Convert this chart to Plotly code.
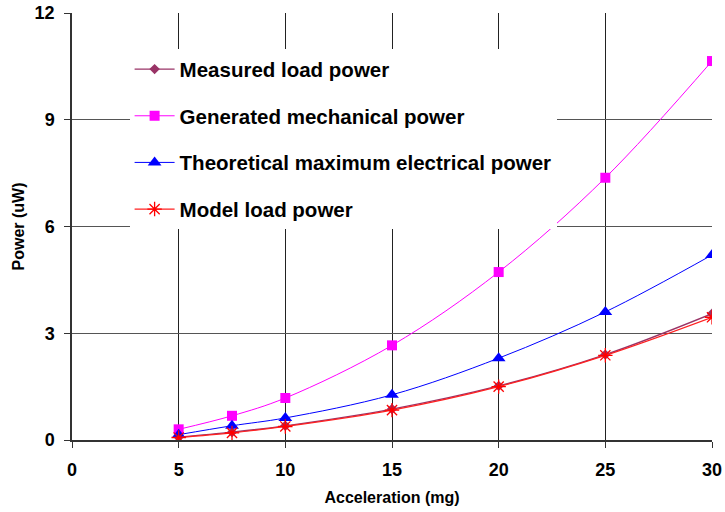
import plotly.graph_objects as go

accel = [5, 7.5, 10, 15, 20, 25, 30]
measured_load = [0.08, 0.22, 0.40, 0.87, 1.52, 2.40, 3.55]
generated_mech = [0.30, 0.68, 1.18, 2.66, 4.72, 7.37, 10.65]
theoretical_max = [0.15, 0.40, 0.62, 1.27, 2.30, 3.60, 5.20]
model_load = [0.07, 0.20, 0.38, 0.84, 1.50, 2.38, 3.45]

x_ticks = [0, 5, 10, 15, 20, 25, 30]
y_ticks = [0, 3, 6, 9, 12]

fig = go.Figure()
fig.add_trace(go.Scatter(x=accel, y=measured_load, name="Measured load power", mode="lines+markers",
                         line=dict(color="#993366", width=1.3, shape="spline"),
                         marker=dict(symbol="diamond", size=8, color="#993366"), legendgroup="a"))
fig.add_trace(go.Scatter(x=accel, y=generated_mech, name="Generated mechanical power", mode="lines+markers",
                         line=dict(color="#FF00FF", width=1, shape="spline"),
                         marker=dict(symbol="square", size=10, color="#FF00FF"), legendgroup="b"))
fig.add_trace(go.Scatter(x=accel, y=theoretical_max, name="Theoretical maximum electrical power", mode="lines+markers",
                         line=dict(color="#0000FF", width=1, shape="spline"),
                         marker=dict(symbol="triangle-up", size=12, color="#0000FF"), legendgroup="c"))
fig.add_trace(go.Scatter(x=accel, y=model_load, name="Model load power", mode="lines+markers",
                         line=dict(color="#FF2020", width=1.3, shape="spline"),
                         marker=dict(symbol="asterisk-open", size=12, color="#FF0000",
                                     line=dict(color="#FF0000", width=1.3)), legendgroup="d"))

fam = "Liberation Sans, Arial"
tickf = dict(family=fam, size=18, color="black", weight="bold")
titlef = dict(family=fam, size=16, color="black", weight="bold")
fig.update_layout(
    width=725, height=512,
    margin=dict(l=72, r=13, t=13, b=72),
    paper_bgcolor="white", plot_bgcolor="white",
    font=dict(family=fam, size=16, color="black"),
    showlegend=True,
    legend=dict(x=0.09, y=0.915, xanchor="left", yanchor="top", bgcolor="white",
                font=dict(family=fam, size=20.5, color="black", weight="bold"),
                traceorder="grouped", tracegroupgap=17, itemwidth=40),
    xaxis=dict(range=[0, 30], tickvals=x_ticks, ticktext=[str(v) for v in x_ticks],
               showgrid=True, gridcolor="#222222", gridwidth=1.2,
               showline=True, linecolor="#333333", linewidth=1.5,
               ticks="outside", ticklen=6, tickcolor="#333333",
               tickfont=tickf, ticklabelstandoff=7, automargin=False,
               title=dict(text="Acceleration (mg)", standoff=12, font=titlef),
               zeroline=False),
    yaxis=dict(range=[0, 12], tickvals=y_ticks, ticktext=[str(v) for v in y_ticks],
               showgrid=True, gridcolor="#555555", gridwidth=1.2,
               showline=True, linecolor="#333333", linewidth=1.5,
               ticks="outside", ticklen=6, tickcolor="#333333",
               tickfont=tickf, ticklabelstandoff=6, automargin=False,
               title=dict(text="Power (uW)", standoff=6, font=titlef),
               zeroline=False),
)
fig.write_html("out.html", config={"displayModeBar": False},
               post_script="document.body.style.margin='0';document.body.style.overflow='hidden';")
